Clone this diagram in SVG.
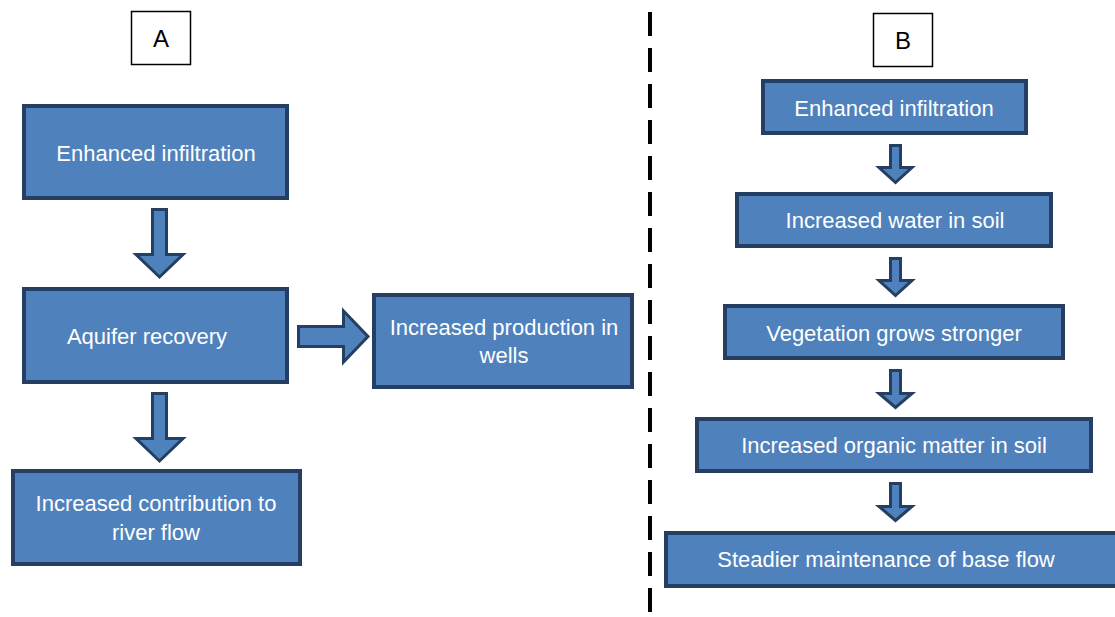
<svg xmlns="http://www.w3.org/2000/svg" width="1115" height="617" viewBox="0 0 1115 617">
<style>
.box{fill:#4F81BD;stroke:#243F62;stroke-width:4}
.arr{fill:#4F81BD;stroke:#243F62;stroke-width:3;stroke-linejoin:miter}
.lbl{fill:#fff;stroke:#000;stroke-width:1.5}
.t{font-family:"Liberation Sans",Arial,sans-serif;font-size:22px;fill:#fff;text-anchor:middle}
.k{font-family:"Liberation Sans",Arial,sans-serif;font-size:24px;fill:#000;text-anchor:middle}
</style>
<rect width="1115" height="617" fill="#fff"/>
<g id="labelA"><rect class="lbl" x="131.5" y="11.5" width="59" height="53"/><text class="k" x="161" y="47">A</text></g>
<g id="labelB"><rect class="lbl" x="873.5" y="13.5" width="59" height="53"/><text class="k" x="903" y="49">B</text></g>
<g id="divider"><line x1="650" y1="12" x2="650" y2="617" stroke="#000" stroke-width="4" stroke-dasharray="24 12"/></g>
<g id="a1"><rect class="box" x="24" y="106" width="263" height="92"/><text class="t" x="156" y="161">Enhanced infiltration</text></g>
<g id="a2"><rect class="box" x="24" y="289" width="263" height="93"/><text class="t" x="147" y="344">Aquifer recovery</text></g>
<g id="a3"><rect class="box" x="13" y="471" width="287" height="93"/><text class="t" x="156" y="511">Increased contribution to</text><text class="t" x="156" y="540">river flow</text></g>
<g id="a4"><rect class="box" x="374" y="295" width="258" height="92"/><text class="t" x="504" y="335">Increased production in</text><text class="t" x="504" y="363">wells</text></g>
<g id="b1"><rect class="box" x="763" y="81" width="263" height="52"/><text class="t" x="894" y="116">Enhanced infiltration</text></g>
<g id="b2"><rect class="box" x="737" y="194" width="314" height="52"/><text class="t" x="895" y="228">Increased water in soil</text></g>
<g id="b3"><rect class="box" x="725" y="306" width="338" height="52"/><text class="t" x="894" y="341">Vegetation grows stronger</text></g>
<g id="b4"><rect class="box" x="697" y="419" width="394" height="52"/><text class="t" x="894" y="453">Increased organic matter in soil</text></g>
<g id="b5"><rect class="box" x="666" y="533" width="460" height="53"/><text class="t" x="886" y="567">Steadier maintenance of base flow</text></g>
<g id="connectors">
<path class="arr" d="M152.5 209.5 H166.5 V254.5 H183 L159.5 277 L136 254.5 H152.5 Z"/>
<path class="arr" d="M152.5 393.5 H166.5 V438.5 H183 L159.5 461 L136 438.5 H152.5 Z"/>
<path class="arr" d="M298.5 326.5 H343.5 V311 L368 336.5 L343.5 362 V346.5 H298.5 Z"/>
<path class="arr" d="M890.5 145.5 H900.5 V167.5 H912 L895.5 182.5 L879 167.5 H890.5 Z"/>
<path class="arr" d="M890.5 258.5 H900.5 V280.5 H912 L895.5 295.5 L879 280.5 H890.5 Z"/>
<path class="arr" d="M890.5 370.5 H900.5 V393.5 H912 L895.5 407.5 L879 393.5 H890.5 Z"/>
<path class="arr" d="M890.5 483.5 H900.5 V506.5 H912 L895.5 520.5 L879 506.5 H890.5 Z"/>
</g>
</svg>
